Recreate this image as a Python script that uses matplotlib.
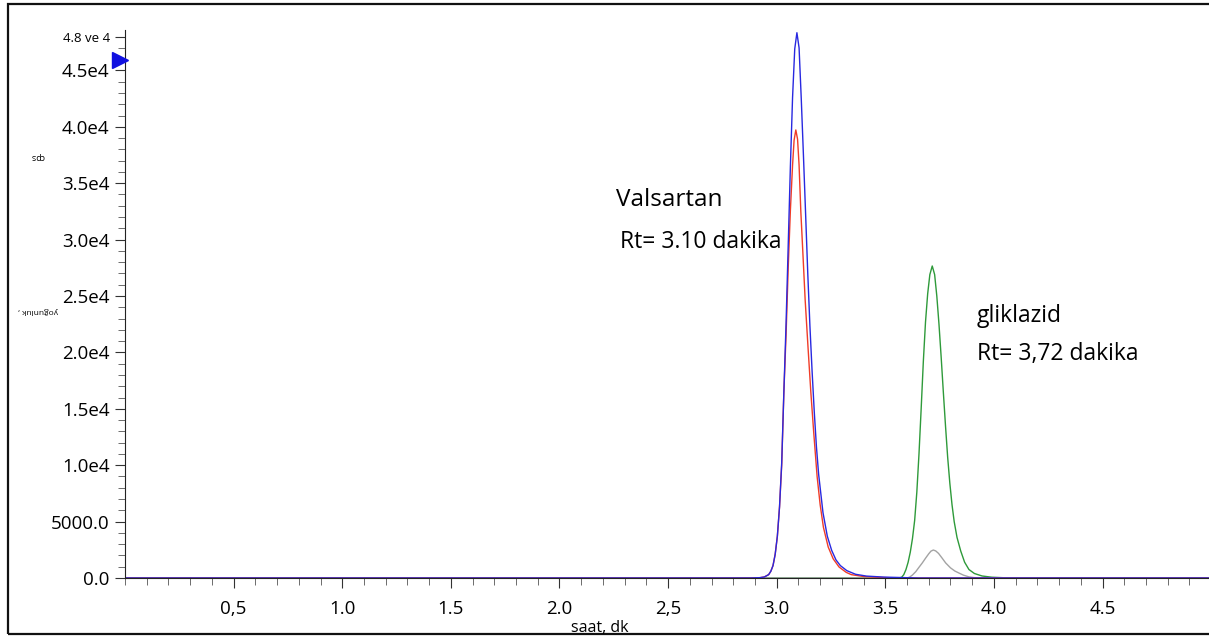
import matplotlib.pyplot as plt
from matplotlib.patches import Rectangle
from matplotlib.ticker import MultipleLocator

plt.rcParams['font.family'] = ['Open Sans', 'DejaVu Sans']

# zaman (dk) ve yoğunluk (cps), resimden okunan noktalar
t_blue = [0.0, 2.88, 2.923, 2.943, 2.963, 2.973, 2.983, 2.993, 3.003, 3.013,
          3.023, 3.033, 3.043, 3.053, 3.063, 3.073, 3.083, 3.093, 3.103, 3.113,
          3.123, 3.133, 3.143, 3.153, 3.163, 3.173, 3.183, 3.193, 3.213, 3.233,
          3.253, 3.273, 3.293, 3.323, 3.363, 3.413, 3.493, 3.593, 3.65, 4.99]
i_blue = [0, 0, 30, 90, 300, 600, 1100, 2100, 3700, 6300,
          10200, 16500, 22500, 29500, 36500, 42600, 46900, 48340, 47000, 42500,
          37500, 32300, 27000, 22300, 18300, 14700, 11600, 9200, 5800, 3700,
          2450, 1600, 1100, 650, 330, 170, 80, 30, 0, 0]

t_red = [0.0, 2.88, 2.923, 2.943, 2.963, 2.973, 2.983, 2.993, 3.003, 3.013,
         3.023, 3.033, 3.043, 3.053, 3.063, 3.073, 3.080, 3.088, 3.096, 3.103,
         3.111, 3.120, 3.131, 3.144, 3.157, 3.170, 3.186, 3.200, 3.215, 3.237,
         3.260, 3.287, 3.320, 3.343, 3.400, 3.480, 3.560, 4.99]
i_red = [0, 0, 30, 90, 300, 600, 1100, 2100, 3700, 6300,
         10000, 16500, 21500, 27500, 32600, 36600, 38800, 39720, 38900, 36600,
         32500, 29000, 24650, 20500, 16500, 13000, 9000, 6500, 4500, 2750,
         1700, 975, 500, 300, 130, 50, 0, 0]

t_green = [0.0, 3.560, 3.575, 3.585, 3.595, 3.605, 3.615, 3.625, 3.635, 3.645,
           3.655, 3.665, 3.675, 3.685, 3.695, 3.705, 3.716, 3.727, 3.737, 3.747,
           3.757, 3.767, 3.777, 3.787, 3.797, 3.807, 3.817, 3.830, 3.847, 3.865,
           3.885, 3.910, 3.945, 3.990, 4.050, 4.100, 4.99]
i_green = [0, 0, 60, 300, 750, 1400, 2300, 3500, 5100, 7600,
           11000, 15000, 19200, 22700, 25200, 26900, 27660, 26900, 25000, 22500,
           19600, 16500, 13500, 10700, 8400, 6500, 5000, 3600, 2400, 1400,
           750, 400, 180, 70, 20, 0, 0]

t_gray = [0.0, 3.600, 3.612, 3.625, 3.640, 3.655, 3.670, 3.685, 3.700, 3.710,
          3.721, 3.732, 3.745, 3.760, 3.778, 3.800, 3.820, 3.839, 3.860, 3.885,
          3.910, 3.940, 4.99]
i_gray = [0, 0, 80, 266, 560, 950, 1330, 1750, 2150, 2380,
          2480, 2400, 2180, 1800, 1330, 900, 620, 440, 250, 100,
          30, 0, 0]

x_ticks = [0.5, 1.0, 1.5, 2.0, 2.5, 3.0, 3.5, 4.0, 4.5]
x_labels = ["0,5", "1.0", "1.5", "2.0", "2,5", "3.0", "3.5", "4.0", "4.5"]
y_ticks = [0, 5000, 10000, 15000, 20000, 25000, 30000, 35000, 40000, 45000, 48000]
y_labels = ["0.0", "5000.0", "1.0e4", "1.5e4", "2.0e4", "2.5e4", "3.0e4",
            "3.5e4", "4.0e4", "4.5e4", "4.8 ve 4"]

fig = plt.figure(figsize=(12.09, 6.38), dpi=100)
ax = fig.add_axes([125 / 1209, 60 / 638, 1 - 125 / 1209, 548 / 638])

ax.plot(t_green, i_green, color="#2e9a3a", lw=1.0)
ax.plot(t_gray, i_gray, color="#a3a3a3", lw=1.0)
ax.plot(t_red, i_red, color="#f03c28", lw=1.0)
ax.plot(t_blue, i_blue, color="#2828e0", lw=1.0)

ax.set_xlim(0, 4.99)
ax.set_ylim(0, 48580)

ax.spines["top"].set_visible(False)
ax.spines["right"].set_visible(False)
ax.spines["left"].set_color("#222222")
ax.spines["bottom"].set_color("#222222")

ax.set_xticks(x_ticks)
ax.set_xticklabels(x_labels)
ax.set_yticks(y_ticks)
ax.set_yticklabels(y_labels)
ax.xaxis.set_minor_locator(MultipleLocator(0.1))
ax.yaxis.set_minor_locator(MultipleLocator(1000))
ax.tick_params(axis="both", which="major", length=7, color="#333333",
               labelsize=13.5)
ax.tick_params(axis="both", which="minor", length=5, color="#555555")
ax.tick_params(axis="x", pad=9)
ax.tick_params(axis="y", pad=4)
ax.get_yticklabels()[-1].set_fontsize(9.5)

# mavi üçgen işaret
ax.plot([-0.025], [45900], marker=">", color="#1010e0", markersize=11,
        clip_on=False, zorder=5)

ax.text(2.262, 33510, "Valsartan", fontsize=17.5, va="center")
ax.text(2.28, 29790, "Rt= 3.10 dakika", fontsize=16.5, va="center")
ax.text(3.922, 23230, "gliklazid", fontsize=16.5, va="center")
ax.text(3.922, 19860, "Rt= 3,72 dakika", fontsize=16.5, va="center")

fig.text(600 / 1209, 1 - 628 / 638, "saat, dk", fontsize=11.5,
         ha="center", va="center")
fig.text(37 / 1209, 1 - 157 / 638, "cps", fontsize=6.5, rotation=180,
         ha="center", va="center")
fig.text(38 / 1209, 1 - 311 / 638, "yoğunluk ,", fontsize=6, rotation=180,
         ha="center", va="center")

# dış çerçeve
fig.patches.append(Rectangle((8 / 1209, 4 / 638), 1.1, 630 / 638,
                             transform=fig.transFigure, fill=False,
                             edgecolor="#111111", lw=1.6))

fig.savefig("out.png", dpi=100)
